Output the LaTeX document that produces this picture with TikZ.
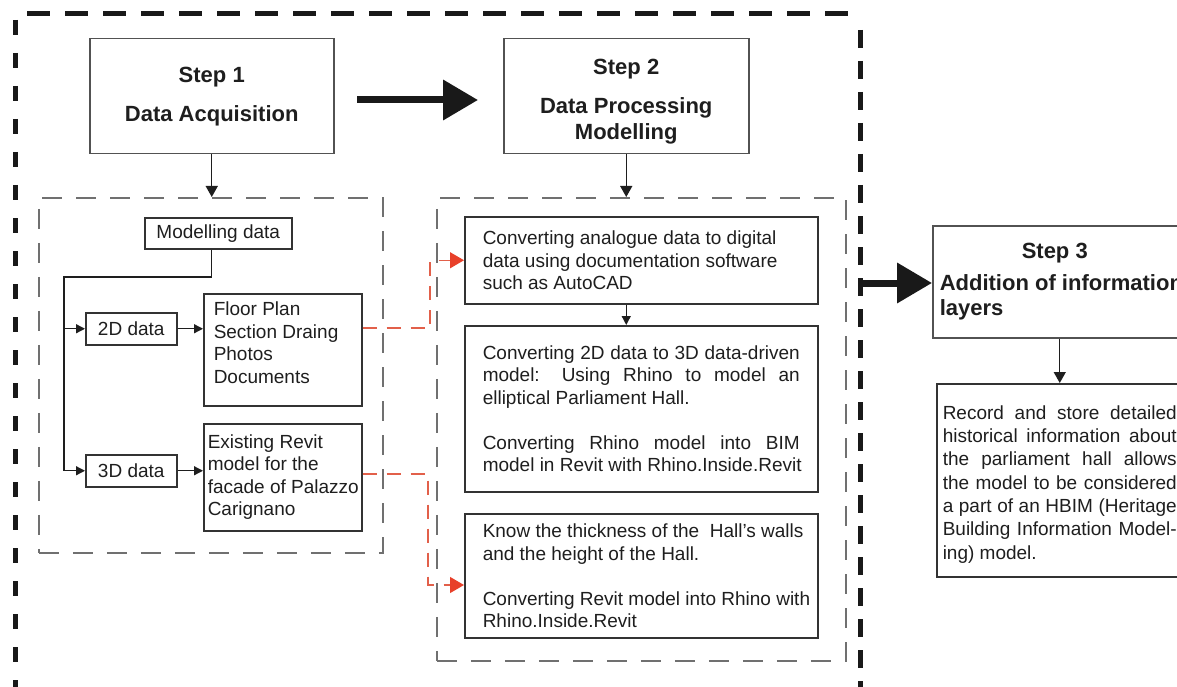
\documentclass[tikz,border=0pt]{standalone}
\usepackage{fontspec}
\setmainfont{Liberation Sans}
\usetikzlibrary{arrows.meta,calc}
\newcommand{\fullline}[1]{\makebox[\linewidth][s]{#1}}
\newcommand{\rawline}[1]{\mbox{#1}}
\definecolor{boxline}{HTML}{333333}
\definecolor{txt}{HTML}{1E1E1E}
\definecolor{dashgray}{HTML}{707070}
\definecolor{redline}{HTML}{E2604A}
\definecolor{redhead}{HTML}{E8402A}
\begin{document}
\begin{tikzpicture}[x=1pt,y=-1pt,
  body/.style={font=\fontsize{19}{22.5}\selectfont, text=txt},
  box/.style={draw=boxline, line width=1.5pt, inner ysep=0pt, anchor=north west, body},
  stepbox/.style={draw=boxline!85, line width=1.5pt, anchor=north west, text=txt, font=\bfseries\fontsize{22}{26}\selectfont, align=center, inner sep=0pt},
  dashbox/.style={draw=dashgray, line width=1.6pt, dash pattern=on 20pt off 14pt, anchor=north west, inner sep=0pt},
  sarrow/.style={draw=txt, line width=1.4pt, -{Triangle[length=11pt,width=12pt]}},
  tarrow/.style={draw=txt, line width=1.3pt, -{Triangle[length=9pt,width=9pt]}},
  bigarrow/.style={draw=black!90, line width=7pt, -{Triangle[length=35pt,width=39pt]}},
  redarrow/.style={draw=redline, line width=1.3pt, dash pattern=on 14pt off 10pt, -{Triangle[length=14pt,width=16pt,color=redhead]}},
  outerdash/.style={line width=5pt, draw=black!90}
]
\useasboundingbox (0,0) rectangle (1177,687);
\clip (0,0) rectangle (1177,687);

% outer thick dashed frame
\draw[outerdash, dash pattern=on 23pt off 15pt] (27,14) -- (860,14);
\draw[outerdash, dash pattern=on 15pt off 18pt] (15,20) -- (15,700);
\draw[outerdash, dash pattern=on 18pt off 13pt] (860,30) -- (860,700);
\draw[outerdash, dash pattern=on 23pt off 15pt] (27,689) -- (860,689);

% inner dashed groups
\node[dashbox, minimum width=344pt, minimum height=355pt] (ld) at (38,197) {};
\node[dashbox, minimum width=409pt, minimum height=463pt] (rd) at (436,197) {};

% step boxes
\node[stepbox, minimum width=244pt, minimum height=115pt] (s1) at (89,38) {Step 1\\[13pt]Data Acquisition};
\node[stepbox, minimum width=245pt, minimum height=115pt] (s2) at (503,38) {\rule{0pt}{26pt}Step 2\\[13pt]Data Processing\\Modelling};
\node[stepbox, align=flush left, text width=245pt, inner xsep=7pt, minimum height=112pt, font=\bfseries\fontsize{22}{25}\selectfont] (s3) at (932,225) {\makebox[230pt][c]{Step 3}\\[7pt]Addition of information\\layers};

% left group
\node[box, minimum width=147pt, minimum height=31pt, inner xsep=0pt] (md) at (144,217) {Modelling data};
\node[box, minimum width=91pt, minimum height=32pt, inner xsep=0pt] (d2) at (85,312) {2D data};
\node[box, minimum width=91pt, minimum height=32pt, inner xsep=0pt] (d3) at (85,454) {3D data};
\node[box, text width=138pt, inner xsep=10pt, minimum height=108pt, align=flush left] (fp) at (203,293) {\rule{0pt}{22pt}Floor Plan\\Section Draing\\Photos\\Documents\\\mbox{}};
\node[box, text width=150pt, inner xsep=4pt, minimum height=107pt, align=flush left] (rv) at (203,423) {Existing Revit\\model for the\\\rawline{facade of Palazzo}\\Carignano};

% right group
\node[box, text width=317pt, inner xsep=18pt, minimum height=87pt, align=flush left] (bA) at (464,216) {Converting analogue data to digital\\data using documentation software\\such as AutoCAD};
\node[box, text width=317pt, inner xsep=18pt, minimum height=166pt, align=flush left] (bB) at (464,325) {\fullline{Converting 2D data to 3D data-driven}\\\fullline{model: Using Rhino to model an}\\elliptical Parliament Hall.\\[22.5pt]\fullline{Converting Rhino model into BIM}\\\rawline{model in Revit with Rhino.Inside.Revit}};
\node[box, text width=317pt, inner xsep=18pt, minimum height=124pt, align=flush left] (bC) at (464,513) {\rawline{Know the thickness of the~ Hall's walls}\\and the height of the Hall.\\[22.5pt]\rawline{Converting Revit model into Rhino with}\\Rhino.Inside.Revit};

% step 3 detail
\node[box, text width=234pt, inner xsep=6pt, minimum height=193pt, align=flush left, font=\fontsize{19}{23.3}\selectfont] (rec) at (936,383) {\rule{0pt}{22pt}\fullline{Record and store detailed}\\\fullline{historical information about}\\\fullline{the parliament hall allows}\\\fullline{the model to be considered}\\\fullline{a part of an HBIM (Heritage}\\\fullline{Building Information Model-}\\ing) model.};

% connectors
\draw[sarrow] (s1.south) -- (s1.south |- ld.north);
\draw[sarrow] (s2.south) -- (s2.south |- rd.north);
\coordinate (tr) at (64,277);
\draw[tarrow] ($(md.south west)!0.455!(md.south east)$) |- (tr) |- (d3.west);
\draw[tarrow] (tr |- d2.west) -- (d2.west);
\draw[tarrow] (d2.east) -- (d2.east -| fp.west);
\draw[tarrow] (d3.east) -- (d3.east -| rv.west);
\draw[tarrow] (bA.south -| s2.south) -- (bB.north -| s2.south);
\draw[sarrow] (s3.south -| rec.north) -- (rec.north);

% red dashed links
\coordinate (rA) at (430,328);
\draw[redarrow] (fp.east |- rA) -- (rA) |- (bA.west);
\coordinate (rB) at (428,474);
\coordinate (rC) at (428,585);
\draw[redarrow] (rv.east |- rB) -- (rB) -- (rC) -- (rC -| bC.west);

% big arrows
\coordinate (b1) at (357,100);
\draw[bigarrow, shorten >=25pt] (b1) -- (b1 -| s2.west);
\coordinate (b2) at (858,283);
\draw[bigarrow] (b2) -- (b2 -| s3.west);
\end{tikzpicture}
\end{document}
